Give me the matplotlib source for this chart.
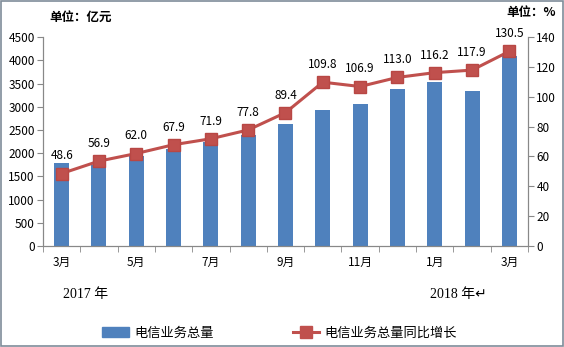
import matplotlib

matplotlib.use("Agg")
import matplotlib.pyplot as plt
from matplotlib.lines import Line2D
from matplotlib.patches import Patch

MONTHS = ["3月", "4月", "5月", "6月", "7月", "8月", "9月",
          "10月", "11月", "12月", "1月", "2月", "3月"]
TOTAL = [1790, 1740, 1940, 2090, 2250, 2390, 2630,
         2930, 3060, 3390, 3540, 3340, 4100]
GROWTH = [48.6, 56.9, 62.0, 67.9, 71.9, 77.8, 89.4,
          109.8, 106.9, 113.0, 116.2, 117.9, 130.5]

BAR_COLOR = "#4F81BD"
LINE_COLOR = "#C0504D"
SERIF = ["Liberation Serif", "Noto Sans CJK SC", "DejaVu Sans"]

plt.rcParams["font.family"] = ["Noto Sans CJK SC", "DejaVu Sans"]

fig = plt.figure(figsize=(5.64, 3.47), dpi=100)
ax = fig.add_axes([0.0762, 0.291, 0.86, 0.602])
ax2 = ax.twinx()

x = list(range(len(MONTHS)))
ax.bar(x, TOTAL, width=0.4, color=BAR_COLOR, zorder=2)
ax.set_xlim(-0.5, len(MONTHS) - 0.5)
ax.set_ylim(0, 4500)
ax.set_yticks(range(0, 4501, 500))

ax2.plot(x, GROWTH, color=LINE_COLOR, linewidth=2.2, marker="s",
         markersize=8, markeredgecolor="#B84744", zorder=3)
ax2.set_ylim(0, 140)
ax2.set_yticks(range(0, 141, 20))
for xi, g in zip(x, GROWTH):
    ax2.annotate(f"{g:.1f}", (xi, g), textcoords="offset points",
                 xytext=(0, 8), ha="center", va="bottom", fontsize=8.5)

ax.set_xticks([i - 0.5 for i in range(len(MONTHS) + 1)], minor=True)
ax.set_xticks(x[::2])
ax.set_xticklabels(MONTHS[::2], fontsize=8.5)
ax.tick_params(axis="x", which="major", length=0, pad=7)
ax.tick_params(axis="x", which="minor", length=4, color="#888888")
ax.tick_params(axis="y", labelsize=8.5, length=4, color="#888888", pad=2)
ax2.tick_params(axis="y", labelsize=8.5, length=4, color="#888888", pad=2)

for a in (ax, ax2):
    a.spines["top"].set_visible(False)
    for s in ("left", "right", "bottom"):
        a.spines[s].set_color("#888888")

fig.text(0.088, 0.94, "单位：亿元", fontsize=9, fontweight="bold")
fig.text(0.985, 0.955, "单位：%", fontsize=9, fontweight="bold", ha="right")

fig.text(0.112, 0.15, "2017 年", fontsize=10, va="center", family=SERIF)
fig.text(0.762, 0.15, "2018 年↵", fontsize=10, va="center", family=SERIF)

handles = [Patch(color=BAR_COLOR),
           Line2D([], [], color=LINE_COLOR, linewidth=2.2, marker="s",
                  markersize=8)]
fig.legend(handles, ["电信业务总量", "电信业务总量同比增长"], loc="center",
           bbox_to_anchor=(0.496, 0.04), ncol=2, frameon=False,
           fontsize=9.5, columnspacing=6, handlelength=2,
           handletextpad=0.4)

fig.patches.append(plt.Rectangle((0.002, 0.002), 0.996, 0.996,
                                 transform=fig.transFigure, fill=False,
                                 edgecolor="#7F8C99", linewidth=1.2))

fig.savefig("out.png", dpi=100)
